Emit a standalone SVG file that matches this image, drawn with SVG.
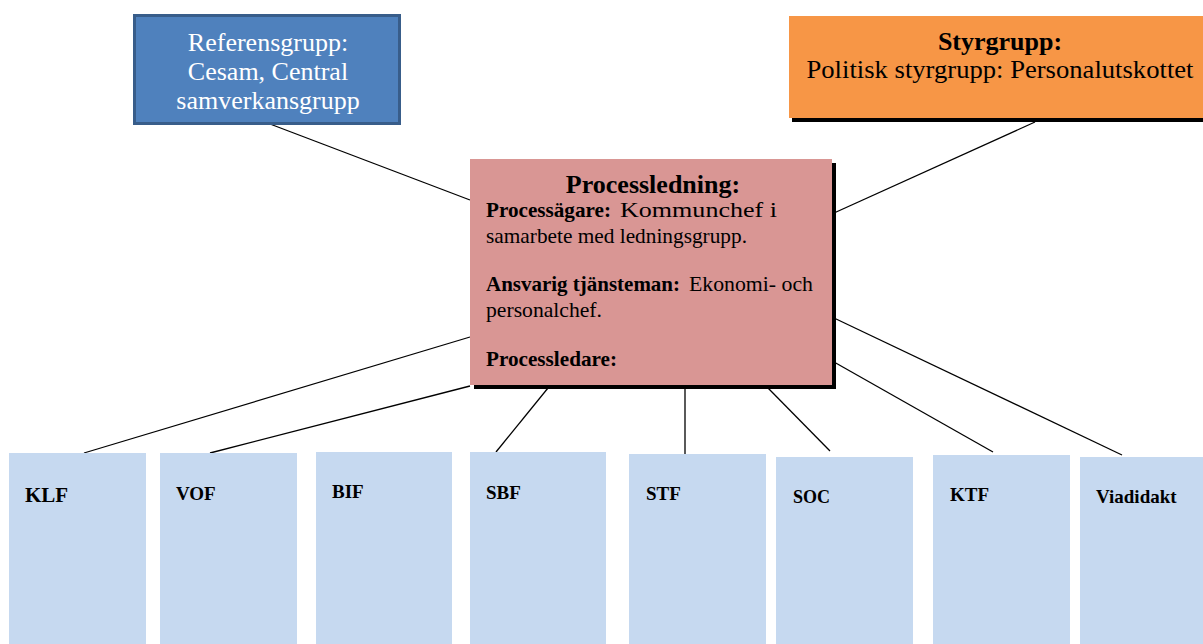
<svg xmlns="http://www.w3.org/2000/svg" width="1203" height="644" viewBox="0 0 1203 644">
<style>
text{font-family:"Liberation Serif","Times New Roman",serif;fill:#000}
.b{font-weight:bold}
.unit{fill:#C6D9F0}
.lbl{font-weight:bold;font-size:19px}
.conn line{stroke:#000;stroke-width:1.3}
</style>
<rect width="1203" height="644" fill="#fff"/>
<g class="conn">
<line x1="270" y1="124" x2="470" y2="200"/>
<line x1="1035" y1="122" x2="834" y2="213"/>
<line x1="84" y1="453" x2="470" y2="337"/>
<line x1="210" y1="453" x2="470" y2="386"/>
<line x1="496" y1="452" x2="548" y2="388"/>
<line x1="685" y1="454" x2="685" y2="388"/>
<line x1="830" y1="451" x2="768" y2="388"/>
<line x1="993" y1="452" x2="834" y2="362"/>
<line x1="1122" y1="455" x2="834" y2="318"/>
</g>
<g id="referensgrupp">
<rect x="134.5" y="15.5" width="265" height="108" fill="#4F81BD" stroke="#385D8A" stroke-width="3"/>
<text x="268" y="51" font-size="26" text-anchor="middle" style="fill:#fff">Referensgrupp:</text>
<text x="268" y="80" font-size="26" text-anchor="middle" style="fill:#fff">Cesam, Central</text>
<text x="268" y="109" font-size="26" text-anchor="middle" style="fill:#fff">samverkansgrupp</text>
</g>
<g id="styrgrupp">
<rect x="792" y="20" width="414" height="102" fill="#000"/>
<rect x="789" y="16" width="414" height="102" fill="#F79646"/>
<text x="1000" y="50" font-size="26" class="b" text-anchor="middle">Styrgrupp:</text>
<text x="1000" y="78" font-size="26" text-anchor="middle" textLength="387" lengthAdjust="spacingAndGlyphs">Politisk styrgrupp: Personalutskottet</text>
</g>
<g id="processledning">
<rect x="474" y="163" width="362" height="226" fill="#000"/>
<rect x="470" y="159" width="362" height="226" fill="#D99694"/>
<text x="653" y="193" font-size="26" class="b" text-anchor="middle">Processledning:</text>
<text x="486" y="217" font-size="21" class="b" textLength="125" lengthAdjust="spacingAndGlyphs">Processägare:</text>
<text x="620" y="217" font-size="22" textLength="157" lengthAdjust="spacingAndGlyphs">Kommunchef  i</text>
<text x="486" y="243" font-size="21" textLength="261" lengthAdjust="spacingAndGlyphs">samarbete med ledningsgrupp.</text>
<text x="486" y="291" font-size="21" class="b" textLength="194" lengthAdjust="spacingAndGlyphs">Ansvarig tjänsteman:</text>
<text x="689" y="291" font-size="21" textLength="124" lengthAdjust="spacingAndGlyphs">Ekonomi- och</text>
<text x="486" y="317" font-size="21" textLength="116" lengthAdjust="spacingAndGlyphs">personalchef.</text>
<text x="486" y="366" font-size="21" class="b" textLength="131" lengthAdjust="spacingAndGlyphs">Processledare:</text>
</g>
<g id="klf"><rect class="unit" x="9" y="453" width="137" height="191"/><text class="lbl" x="25" y="502" style="font-size:21px">KLF</text></g>
<g id="vof"><rect class="unit" x="160" y="453" width="137" height="191"/><text class="lbl" x="176" y="500">VOF</text></g>
<g id="bif"><rect class="unit" x="316" y="452" width="136" height="192"/><text class="lbl" x="332" y="498">BIF</text></g>
<g id="sbf"><rect class="unit" x="470" y="452" width="136" height="192"/><text class="lbl" x="486" y="499">SBF</text></g>
<g id="stf"><rect class="unit" x="629" y="454" width="137" height="190"/><text class="lbl" x="646" y="500">STF</text></g>
<g id="soc"><rect class="unit" x="776" y="457" width="137" height="187"/><text class="lbl" x="793" y="503" style="font-size:18px">SOC</text></g>
<g id="ktf"><rect class="unit" x="933" y="455" width="137" height="189"/><text class="lbl" x="950" y="501">KTF</text></g>
<g id="viadidakt"><rect class="unit" x="1080" y="457" width="123" height="187"/><text class="lbl" x="1096" y="503">Viadidakt</text></g>
</svg>
